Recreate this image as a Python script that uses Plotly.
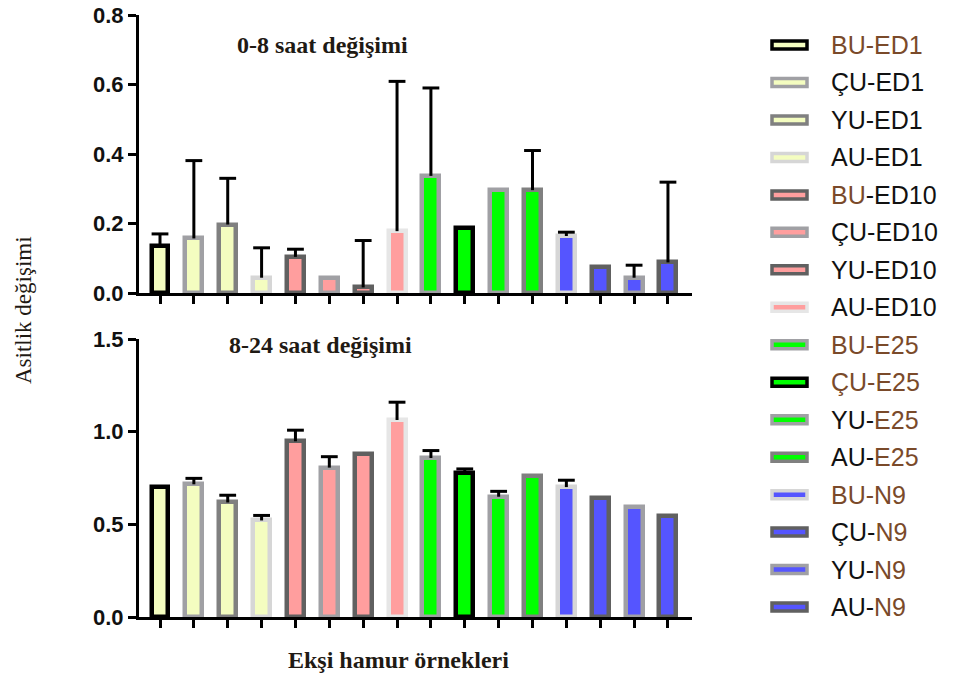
import plotly.graph_objects as go

# ---------------- data ----------------
categories = ["BU-ED1", "ÇU-ED1", "YU-ED1", "AU-ED1",
              "BU-ED10", "ÇU-ED10", "YU-ED10", "AU-ED10",
              "BU-E25", "ÇU-E25", "YU-E25", "AU-E25",
              "BU-N9", "ÇU-N9", "YU-N9", "AU-N9"]

change_0_8 = [0.136, 0.157, 0.197, 0.044, 0.104, 0.044, 0.016, 0.178,
              0.337, 0.188, 0.296, 0.296, 0.164, 0.075, 0.044, 0.088]
err_0_8 = [0.034, 0.224, 0.133, 0.086, 0.022, None, 0.135, 0.431,
           0.253, None, None, 0.114, 0.011, None, 0.036, 0.231]

change_8_24 = [0.700, 0.716, 0.618, 0.521, 0.948, 0.806, 0.879, 1.063,
               0.858, 0.777, 0.649, 0.759, 0.701, 0.640, 0.595, 0.543]
err_8_24 = [None, 0.032, 0.039, 0.027, 0.060, 0.059, None, 0.096,
            0.040, 0.022, 0.029, None, 0.037, None, None, None]

fill_colors = ["#F4FDC0"] * 4 + ["#FF9E9E"] * 4 + ["#00FF00"] * 4 + ["#5555FF"] * 4
border_colors = ["#000000", "#A0A0A4", "#808080", "#D6D6D6",
                 "#606060", "#A0A0A4", "#606060", "#E6E6E6",
                 "#A0A0A4", "#000000", "#A0A0A4", "#808080",
                 "#D6D6D6", "#606060", "#A0A0A4", "#606060"]

BR = "#7A4A2A"
legend_markup = [
    f'<span style="color:{BR}">BU-ED1</span>', "ÇU-ED1", "YU-ED1", "AU-ED1",
    f'<span style="color:{BR}">BU</span>-ED10', "ÇU-ED10", "YU-ED10", "AU-ED10",
    f'<span style="color:{BR}">BU-E25</span>', f'<span style="color:{BR}">ÇU-E25</span>',
    f'YU-<span style="color:{BR}">E25</span>', f'AU-<span style="color:{BR}">E25</span>',
    f'<span style="color:{BR}">BU-N9</span>', f'ÇU-<span style="color:{BR}">N9</span>',
    f'YU-<span style="color:{BR}">N9</span>', f'AU-<span style="color:{BR}">N9</span>',
]

panel_titles = ["0-8 saat değişimi", "8-24 saat değişimi"]

# ---------------- figure ----------------
W, H = 963, 675
def px(x):
    return x / W
def py(y):
    return 1 - y / H

fig = go.Figure()

panels = [("x", "y", change_0_8, err_0_8), ("x2", "y2", change_8_24, err_8_24)]
for xa, ya, vals, errs in panels:
    fig.add_trace(go.Bar(
        x=categories, y=vals, width=0.5,
        marker=dict(color=fill_colors, line=dict(color=border_colors, width=4.5)),
        xaxis=xa, yaxis=ya, showlegend=False))
    sx, sy, cx, cy = [], [], [], []
    for c, v, e in zip(categories, vals, errs):
        if e is None:
            continue
        sx += [c, c, None]
        sy += [v, v + e, None]
        cx.append(c)
        cy.append(v + e)
    fig.add_trace(go.Scatter(x=sx, y=sy, mode="lines",
                             line=dict(color="black", width=3),
                             xaxis=xa, yaxis=ya, showlegend=False, hoverinfo="skip"))
    fig.add_trace(go.Scatter(x=cx, y=cy, mode="markers",
                             marker=dict(symbol="line-ew", size=12,
                                         line=dict(color="black", width=3)),
                             xaxis=xa, yaxis=ya, showlegend=False, hoverinfo="skip"))

tickfont = dict(family="Liberation Sans, Arial", size=22, color="#111111", weight="bold")
xdom = [px(139), px(692)]
common_x = dict(domain=xdom, range=[-0.62, 15.71], showline=True, linewidth=3,
                linecolor="black", ticks="outside", ticklen=8, tickwidth=3,
                tickcolor="black", showticklabels=False, showgrid=False,
                zeroline=False, fixedrange=True, automargin=False)
common_y = dict(showline=True, linewidth=3, linecolor="black", ticks="outside",
                ticklen=8, tickwidth=3, tickcolor="black", showgrid=False,
                zeroline=False, tickfont=tickfont, tickformat=".1f", fixedrange=True,
                automargin=False)

fig.update_layout(
    width=W, height=H, margin=dict(l=0, r=0, t=0, b=0, autoexpand=False),
    plot_bgcolor="white", paper_bgcolor="white", showlegend=False,
    bargap=0,
    xaxis=dict(anchor="y", **common_x),
    xaxis2=dict(anchor="y2", **common_x),
    yaxis=dict(anchor="x", domain=[py(293), py(15)], range=[0, 0.8], dtick=0.2, **common_y),
    yaxis2=dict(anchor="x2", domain=[py(617), py(339)], range=[0, 1.5], dtick=0.5, **common_y),
)

serif = "Liberation Serif, Times New Roman, serif"
title_color = "#1f1a14"
annotations = [
    dict(text=f"<b>{panel_titles[0]}</b>", x=px(322), y=py(45), xref="paper", yref="paper",
         showarrow=False, xanchor="center", yanchor="middle",
         font=dict(family=serif, size=24, color=title_color)),
    dict(text=f"<b>{panel_titles[1]}</b>", x=px(320), y=py(345), xref="paper", yref="paper",
         showarrow=False, xanchor="center", yanchor="middle",
         font=dict(family=serif, size=24, color=title_color)),
    dict(text="<b>Ekşi hamur örnekleri</b>", x=px(398), y=py(660), xref="paper", yref="paper",
         showarrow=False, xanchor="center", yanchor="middle",
         font=dict(family=serif, size=24, color=title_color)),
    dict(text="Asitlik değişimi", x=px(23), y=py(310), xref="paper", yref="paper",
         showarrow=False, xanchor="center", yanchor="middle", textangle=-90,
         font=dict(family=serif, size=23, color=title_color)),
]

shapes = []
for i, (lab, fc, bc) in enumerate(zip(legend_markup, fill_colors, border_colors)):
    cy_ = 45 + i * 37.47
    shapes.append(dict(type="rect", xref="paper", yref="paper",
                       x0=px(772), x1=px(807), y0=py(cy_ + 4), y1=py(cy_ - 4),
                       line=dict(color=bc, width=3.5), fillcolor=fc))
    annotations.append(dict(text=lab, x=px(829), y=py(cy_), xref="paper", yref="paper",
                            showarrow=False, xanchor="left", yanchor="middle",
                            font=dict(family="Liberation Sans, Arial", size=25, color="#111111")))

fig.update_layout(annotations=annotations, shapes=shapes)
fig.write_html("out.html")
